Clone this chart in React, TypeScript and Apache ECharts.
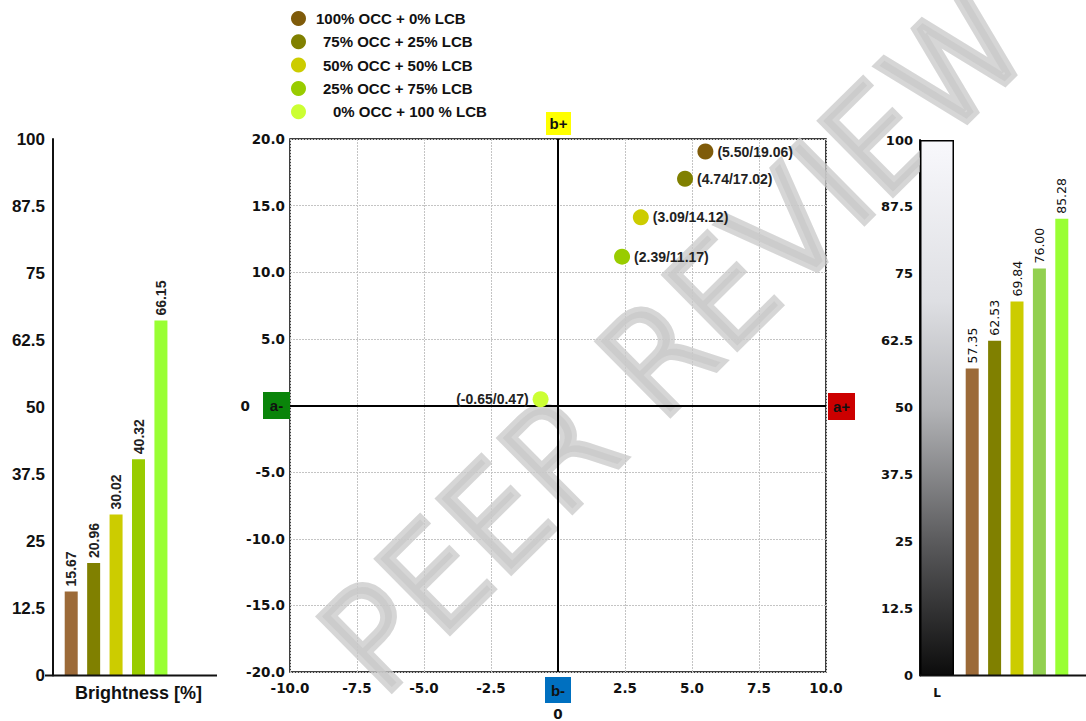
import React, { useEffect, useRef } from "react";
import * as echarts from "echarts";

// ---- data ----
const mixes = [
  "100% OCC + 0% LCB",
  "75% OCC + 25% LCB",
  "50% OCC + 50% LCB",
  "25% OCC + 75% LCB",
  "0% OCC + 100 % LCB",
];
const legendIndent = [5, 12, 12, 12, 22];
const pointColors = ["#7f5b0a", "#808000", "#cccc00", "#99cc00", "#ccff33"];
const aValues = [5.5, 4.74, 3.09, 2.39, -0.65];
const bValues = [19.06, 17.02, 14.12, 11.17, 0.47];

const brightness = [15.67, 20.96, 30.02, 40.32, 66.15];
const brightnessColors = ["#9c6a38", "#808000", "#cccc00", "#99cc00", "#99ff33"];
const brightnessSlots = ["b1", "b2", "b3", "b4", "b5", "", ""];

const lightness = [57.35, 62.53, 69.84, 76.0, 85.28];
const lightnessColors = ["#9c6a38", "#808000", "#cccc00", "#92d050", "#99ff33"];
const lightnessSlots = ["l1", "l2", "l3", "l4", "l5"];
const scaleCategory = ["L"];
const scaleValue = [100];

const percentMin = 0;
const percentMax = 100;
const percentStep = 12.5;
const aMin = -10, aMax = 10, aStep = 2.5;
const bMin = -20, bMax = 20, bStep = 5;

const BOLD_ARIAL = "Liberation Sans, Arial, sans-serif";
const DEJAVU = "DejaVu Sans, Verdana, sans-serif";

export default function App() {
  const ref = useRef<HTMLDivElement>(null);
  useEffect(() => {
    document.body.style.margin = "0";
    if (!ref.current) return;
    const chart = echarts.init(ref.current, null, { renderer: "svg" });

    const box = (x: number, y: number, w: number, h: number, fill: string, label: string) => ({
      type: "group",
      x,
      y,
      z: 10,
      children: [
        { type: "rect", shape: { x: 0, y: 0, width: w, height: h }, style: { fill } },
        {
          type: "text",
          x: w / 2,
          y: h / 2,
          style: {
            text: label,
            fill: "#111",
            font: `bold 15px ${BOLD_ARIAL}`,
            align: "center",
            verticalAlign: "middle",
          },
        },
      ],
    });

    const rich: any = {};
    legendIndent.forEach((p, i) => {
      rich["i" + i] = {
        padding: [0, 0, 0, p],
        fontWeight: "bold",
        fontSize: 15,
        fontFamily: BOLD_ARIAL,
        color: "#111",
      };
    });

    const option: any = {
      animation: false,
      backgroundColor: "#fff",
      legend: {
        orient: "vertical",
        left: 286,
        top: 6,
        itemWidth: 15,
        itemHeight: 15,
        itemGap: 8.3,
        icon: "circle",
        data: mixes,
        formatter: (name: string) => `{i${mixes.indexOf(name)}|${name}}`,
        textStyle: { fontSize: 15, fontWeight: "bold", fontFamily: BOLD_ARIAL, rich },
      },
      grid: [
        { left: 60, top: 139, width: 157, height: 536.5 },
        { left: 290, top: 139, width: 536, height: 536, show: true, borderColor: "#000", borderWidth: 1.5 },
        { left: 920, top: 140, width: 34, height: 535.5 },
        { left: 961, top: 140, width: 112, height: 535.5 },
      ],
      xAxis: [
        {
          gridIndex: 0,
          type: "category",
          data: brightnessSlots,
          axisLine: { show: false },
          axisTick: { show: false },
          axisLabel: { show: false },
          name: "Brightness [%]",
          nameLocation: "middle",
          nameGap: 8,
          nameTextStyle: {
            fontFamily: BOLD_ARIAL,
            fontWeight: "bold",
            fontSize: 18,
            color: "#111",
            verticalAlign: "top",
          },
        },
        {
          gridIndex: 1,
          type: "value",
          min: aMin,
          max: aMax,
          interval: aStep,
          axisLine: { show: false, onZero: false },
          axisTick: { show: false },
          splitLine: { show: true, lineStyle: { color: "#c4c4c4", type: [2, 1], width: 1 } },
          axisLabel: {
            margin: 9,
            fontFamily: DEJAVU,
            fontWeight: "bold",
            fontSize: 13.5,
            color: "#111",
            formatter: (v: number) => (v === 0 ? "{z|0}" : v.toFixed(1)),
            rich: { z: { padding: [26, 0, 0, 0], fontFamily: DEJAVU, fontWeight: "bold", fontSize: 13.5, color: "#111" } },
          },
        },
        {
          gridIndex: 2,
          type: "category",
          data: scaleCategory,
          axisLine: { show: false },
          axisTick: { show: false },
          axisLabel: { margin: 11, fontFamily: DEJAVU, fontWeight: "bold", fontSize: 12, color: "#111" },
        },
        {
          gridIndex: 3,
          type: "category",
          data: lightnessSlots,
          axisLine: { show: false },
          axisTick: { show: false },
          axisLabel: { show: false },
        },
      ],
      yAxis: [
        {
          gridIndex: 0,
          type: "value",
          position: "left",
          min: percentMin,
          max: percentMax,
          interval: percentStep,
          offset: 7,
          axisLine: { show: true, lineStyle: { color: "#111", width: 2 } },
          axisTick: { show: false },
          splitLine: { show: false },
          axisLabel: { margin: 8, fontFamily: BOLD_ARIAL, fontWeight: "bold", fontSize: 17, color: "#111" },
        },
        {
          gridIndex: 1,
          type: "value",
          position: "left",
          min: bMin,
          max: bMax,
          interval: bStep,
          axisLine: { show: false, onZero: false },
          axisTick: { show: false },
          splitLine: { show: true, lineStyle: { color: "#c4c4c4", type: [2, 1], width: 1 } },
          axisLabel: {
            margin: 5,
            fontFamily: DEJAVU,
            fontWeight: "bold",
            fontSize: 13.5,
            color: "#111",
            formatter: (v: number) => (v === 0 ? "{z|0}" : v.toFixed(1)),
            rich: { z: { padding: [0, 35, 0, 0], fontFamily: DEJAVU, fontWeight: "bold", fontSize: 13.5, color: "#111" } },
          },
        },
        {
          gridIndex: 2,
          type: "value",
          position: "left",
          min: percentMin,
          max: percentMax,
          interval: percentStep,
          axisLine: { show: true, lineStyle: { color: "#111", width: 2 } },
          axisTick: { show: false },
          splitLine: { show: false },
          axisLabel: {
            show: true,
            margin: 7,
            align: "right",
            verticalAlign: "middle",
            fontFamily: DEJAVU,
            fontWeight: "bold",
            fontSize: 13,
            color: "#111",
          },
        },
        {
          gridIndex: 3,
          type: "value",
          position: "left",
          min: percentMin,
          max: percentMax,
          interval: percentStep,
          axisLine: { show: false },
          axisTick: { show: false },
          splitLine: { show: false },
          axisLabel: { show: false },
        },
      ],
      series: [
        {
          type: "bar",
          xAxisIndex: 0,
          yAxisIndex: 0,
          barWidth: 13,
          data: brightness.map((v, i) => ({ value: v, itemStyle: { color: brightnessColors[i] } })),
          label: {
            show: true,
            position: "top",
            rotate: 90,
            align: "left",
            verticalAlign: "middle",
            distance: 5,
            fontFamily: BOLD_ARIAL,
            fontWeight: "bold",
            fontSize: 14,
            color: "#222",
            formatter: (p: any) => p.value.toFixed(2),
          },
        },
        {
          type: "bar",
          xAxisIndex: 2,
          yAxisIndex: 2,
          barWidth: "100%",
          data: scaleValue,
          label: { show: false },
          itemStyle: {
            borderColor: "#000",
            borderWidth: 1.5,
            color: new echarts.graphic.LinearGradient(0, 0, 0, 1, [
              { offset: 0, color: "#f8f8fc" },
              { offset: 0.3, color: "#dedfe3" },
              { offset: 0.5, color: "#b3b4b7" },
              { offset: 0.75, color: "#5b5b5d" },
              { offset: 1, color: "#0c0c0c" },
            ]),
          },
        },
        {
          type: "bar",
          xAxisIndex: 3,
          yAxisIndex: 3,
          barWidth: 13,
          data: lightness.map((v, i) => ({ value: v, itemStyle: { color: lightnessColors[i] } })),
          label: {
            show: true,
            position: "top",
            rotate: 90,
            align: "left",
            verticalAlign: "middle",
            distance: 5,
            fontFamily: DEJAVU,
            fontSize: 12.5,
            color: "#111",
            formatter: (p: any) => p.value.toFixed(2),
          },
        },
        ...mixes.map((name, i) => ({
          type: "scatter",
          name,
          xAxisIndex: 1,
          yAxisIndex: 1,
          symbolSize: 16,
          z: 5,
          itemStyle: { color: pointColors[i], opacity: 1 },
          data: [[aValues[i], bValues[i]]],
          label: {
            show: true,
            position: aValues[i] < 0 ? "left" : "right",
            distance: 4,
            fontFamily: BOLD_ARIAL,
            fontWeight: "bold",
            fontSize: 14,
            color: "#222",
            formatter: (p: any) => `(${p.value[0].toFixed(2)}/${p.value[1].toFixed(2)})`,
          },
          markLine:
            i === 0
              ? {
                  silent: true,
                  symbol: "none",
                  label: { show: false },
                  lineStyle: { color: "#000", width: 2, type: "solid" },
                  data: [{ xAxis: 0 }, { yAxis: 0 }],
                }
              : undefined,
        })),
      ],
      graphic: [
        {
          type: "text",
          x: 676,
          y: 340,
          rotation: 0.78,
          z: 1,
          silent: true,
          style: {
            text: "PEER REVIEW",
            font: `200 136px ${DEJAVU}`,
            fill: "rgba(200,200,200,0.75)",
            stroke: "rgba(200,200,200,0.75)",
            lineWidth: 10,
            align: "center",
            verticalAlign: "middle",
          },
        },
        { type: "line", z: 3, shape: { x1: 45, y1: 675.5, x2: 217, y2: 675.5 }, style: { stroke: "#111", lineWidth: 2 } },
        { type: "line", z: 3, shape: { x1: 920, y1: 675.5, x2: 1086, y2: 675.5 }, style: { stroke: "#111", lineWidth: 2 } },
        box(263, 392, 27, 27, "#0a840a", "a-"),
        box(828, 393, 27, 27, "#cc0000", "a+"),
        box(546, 112, 25, 23, "#ffff00", "b+"),
        box(545, 677, 26, 26, "#0070c0", "b-"),
      ],
    };
    chart.setOption(option);
    return () => chart.dispose();
  }, []);
  return <div ref={ref} style={{ width: 1086, height: 721 }} />;
}
